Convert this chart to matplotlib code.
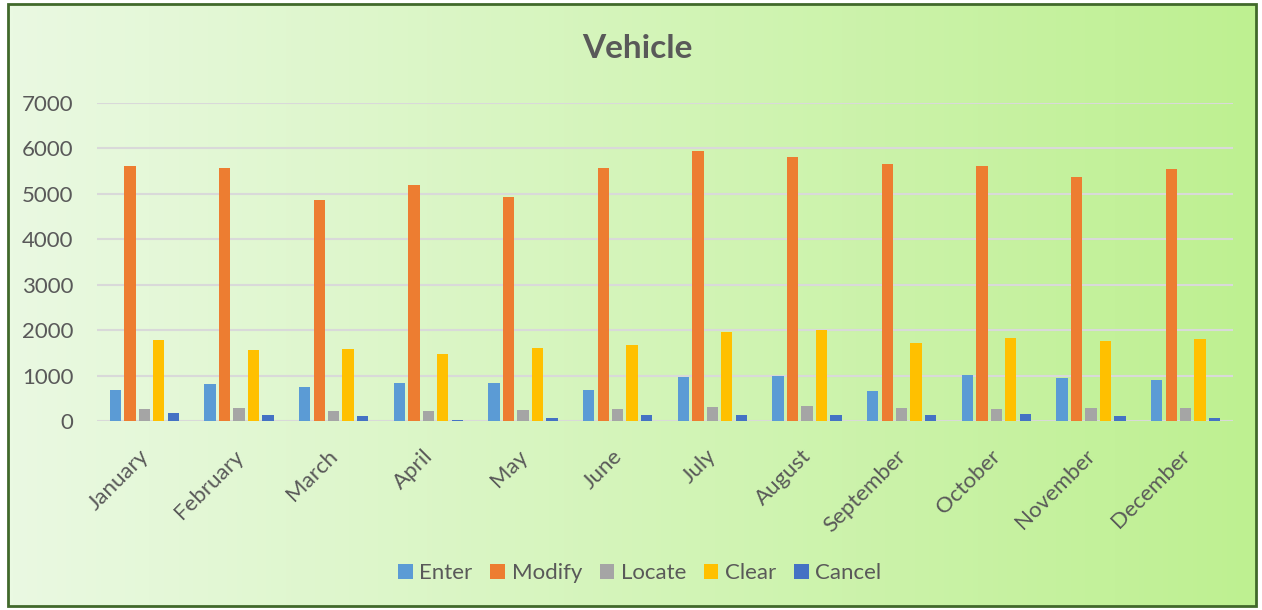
import numpy as np
import matplotlib.pyplot as plt
import matplotlib.transforms as mtransforms
from matplotlib.patches import Rectangle

plt.rcParams['font.family'] = ['Lato', 'DejaVu Sans']

# Data
months = ['January', 'February', 'March', 'April', 'May', 'June',
          'July', 'August', 'September', 'October', 'November', 'December']
enter = [680, 815, 745, 840, 830, 685, 960, 980, 650, 1010, 950, 895]
modify = [5620, 5570, 4870, 5190, 4930, 5570, 5950, 5815, 5660, 5605, 5365, 5550]
locate = [265, 280, 220, 210, 240, 270, 305, 335, 295, 270, 295, 280]
clear = [1790, 1560, 1575, 1480, 1600, 1680, 1970, 1995, 1710, 1830, 1760, 1805]
cancel = [180, 140, 110, 30, 70, 140, 140, 130, 130, 150, 115, 70]

series = ['Enter', 'Modify', 'Locate', 'Clear', 'Cancel']
colors = ['#5B9BD5', '#ED7D31', '#A5A5A5', '#FFC000', '#4472C4']
values = [enter, modify, locate, clear, cancel]

fig = plt.figure(figsize=(12.62, 6.10), dpi=100)
fig.patch.set_facecolor('white')

# gradient background inside the border
bg = fig.add_axes([8/1262, 4/610, 1248/1262, 602/610], zorder=0)
c_left = np.array([234, 249, 226]) / 255
c_right = np.array([190, 240, 145]) / 255
t = np.linspace(0, 1, 256)
grad = c_left[None, :] * (1 - t[:, None]) + c_right[None, :] * t[:, None]
bg.imshow(grad[None, :, :], aspect='auto', extent=[0, 1, 0, 1])
bg.set_xlim(0, 1)
bg.set_ylim(0, 1)
bg.axis('off')
bg.add_patch(Rectangle((0, 0), 1, 1, fill=False, edgecolor='#41692B',
                       linewidth=2, transform=bg.transAxes, clip_on=False))

ax = fig.add_axes([97/1262, 1 - 421/610, 1136/1262, 318/610], zorder=1)
ax.patch.set_alpha(0)

x = np.arange(len(months))
width = 0.12
step = 0.153
for i, (name, vals, col) in enumerate(zip(series, values, colors)):
    ax.bar(x + (i - 2) * step, vals, width, color=col, label=name, zorder=3)

ax.set_xlim(-0.5, len(months) - 0.5)
ax.set_ylim(0, 7000)
ax.set_yticks(range(0, 7001, 1000))
ax.grid(axis='y', color='#D9D9D9', linewidth=1.5, zorder=0)
ax.set_axisbelow(True)
for s in ax.spines.values():
    s.set_visible(False)
ax.tick_params(axis='both', length=0, labelsize=16, labelcolor='#595959')
ax.tick_params(axis='y', pad=17)
ax.set_xticks(x)
ax.set_xticklabels(months, rotation=45, ha='right', rotation_mode='anchor')
ax.tick_params(axis='x', pad=18)
# nudge rotated month labels a little to the left
shift = mtransforms.ScaledTranslation(-6/100, 0, fig.dpi_scale_trans)
for lbl in ax.get_xticklabels():
    lbl.set_transform(lbl.get_transform() + shift)

fig.text(0.505, 1 - 48/610, 'Vehicle', ha='center', va='center',
         fontsize=24, fontweight='bold', color='#595959')

leg = fig.legend(loc='center', bbox_to_anchor=(0.507, 1 - 573/610), ncol=5,
                 frameon=False, fontsize=16, handlelength=0.65, handleheight=0.65,
                 handletextpad=0.3, columnspacing=0.8)
for txt in leg.get_texts():
    txt.set_color('#595959')

plt.savefig('out.png', dpi=100)
